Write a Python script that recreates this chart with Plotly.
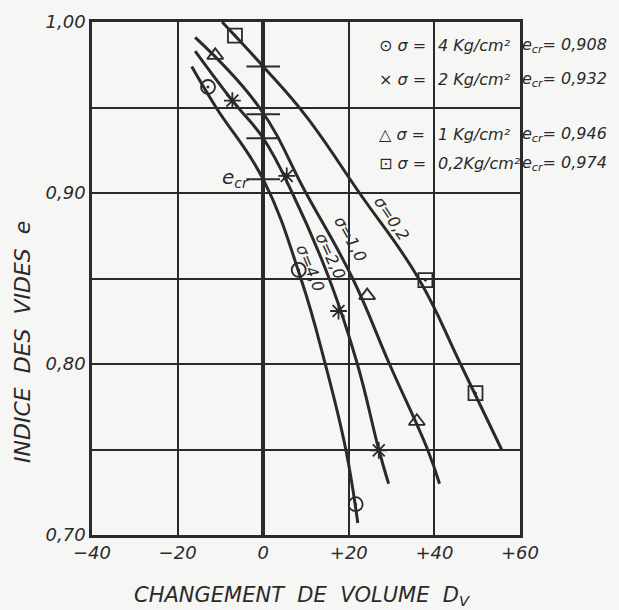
import plotly.graph_objects as go

# ---------------- data ----------------
pressures = ["4 Kg/cm²", "2 Kg/cm²", "1 Kg/cm²", "0,2Kg/cm²"]
ecr_values = [0.908, 0.932, 0.946, 0.974]
ecr_text = ["0,908", "0,932", "0,946", "0,974"]
curve_names = ["σ=4,0", "σ=2,0", "σ=1,0", "σ=0,2"]

# fitted curves
c4_x = [-16.7, -11.0, 0.0, 8.8, 14.5, 19.3, 22.1]
c4_y = [0.974, 0.950, 0.908, 0.850, 0.800, 0.750, 0.707]
c2_x = [-15.9, -7.2, 0.0, 6.8, 15.4, 22.0, 27.0, 29.3]
c2_y = [0.983, 0.954, 0.932, 0.900, 0.850, 0.800, 0.750, 0.730]
c1_x = [-15.9, -0.9, 10.0, 20.9, 29.5, 38.4, 41.2]
c1_y = [0.991, 0.950, 0.900, 0.850, 0.800, 0.750, 0.730]
c02_x = [-9.6, 0.0, 10.0, 22.5, 36.3, 46.1, 55.7]
c02_y = [1.000, 0.974, 0.945, 0.900, 0.850, 0.800, 0.750]

# measured points
m4_x = [-12.9, 8.3, 21.6]
m4_y = [0.962, 0.855, 0.718]
m2_x = [-7.2, 5.5, 17.6, 27.0]
m2_y = [0.954, 0.910, 0.831, 0.7495]
m1_x = [-11.2, 24.3, 35.9]
m1_y = [0.9805, 0.840, 0.7665]
m02_x = [-6.6, 37.9, 49.6]
m02_y = [0.992, 0.849, 0.783]

x_ticks = [-40, -20, 0, 20, 40, 60]
x_ticktext = ["−40", "−20", "0", "+20", "+40", "+60"]
y_ticks = [0.70, 0.75, 0.80, 0.85, 0.90, 0.95, 1.00]
y_ticktext = ["0,70", "", "0,80", "", "0,90", "", "1,00"]

INK = "#2a2a2a"
BG = "#f6f6f4"
FONT = "DejaVu Sans"

fig = go.Figure()

for cx, cy in [(c4_x, c4_y), (c2_x, c2_y), (c1_x, c1_y), (c02_x, c02_y)]:
    fig.add_trace(go.Scatter(x=cx, y=cy, mode="lines",
                             line=dict(color=INK, width=3, shape="spline", smoothing=1.2),
                             hoverinfo="skip", showlegend=False))

mk = dict(color=INK, size=14, line=dict(color=INK, width=1.8))
fig.add_trace(go.Scatter(x=m4_x, y=m4_y, mode="markers",
                         marker=dict(symbol="circle-open-dot", **mk), showlegend=False))
fig.add_trace(go.Scatter(x=m2_x, y=m2_y, mode="markers",
                         marker=dict(symbol="asterisk-open", **mk), showlegend=False))
fig.add_trace(go.Scatter(x=m1_x, y=m1_y, mode="markers",
                         marker=dict(symbol="triangle-up-open", **mk), showlegend=False))
fig.add_trace(go.Scatter(x=m02_x, y=m02_y, mode="markers",
                         marker=dict(symbol="square-open-dot", **mk), showlegend=False))

# e_cr ticks on the zero line
fig.add_trace(go.Scatter(x=[0] * len(ecr_values), y=ecr_values, mode="markers",
                         marker=dict(symbol="line-ew-open", size=24, color=INK,
                                     line=dict(color=INK, width=2)),
                         showlegend=False, cliponaxis=False))

fig.add_annotation(x=-2.8, y=0.9085, xref="x", yref="y", text="e<sub>cr</sub>",
                   showarrow=False, xanchor="right", yanchor="middle",
                   font=dict(family=FONT, size=20, color=INK, style="italic"))

# curve labels
label_pos = [(11.1, 0.856, 68), (15.8, 0.863, 65), (20.5, 0.873, 61), (30.0, 0.885, 56)]
for name, (lx, ly, ang) in zip(curve_names, label_pos):
    fig.add_annotation(x=lx, y=ly, xref="x", yref="y", text=name, showarrow=False,
                       textangle=ang,
                       font=dict(family=FONT, size=16, color=INK, style="italic"))

# legend block
symbols = ["⊙", "×", "△", "⊡"]
row_y = [0.9864, 0.9665, 0.9343, 0.9174]
for sym, p, et, ry in zip(symbols, pressures, ecr_text, row_y):
    f = dict(family=FONT, size=16, color=INK, style="italic")
    fig.add_annotation(x=26.5, y=ry, xref="x", yref="y", text=sym + " σ =",
                       showarrow=False, xanchor="left", font=f)
    fig.add_annotation(x=40.4, y=ry, xref="x", yref="y", text=p,
                       showarrow=False, xanchor="left", font=f)
    fig.add_annotation(x=59.9, y=ry, xref="x", yref="y",
                       text="e<sub>cr</sub>= " + et,
                       showarrow=False, xanchor="left", font=f)

# axis titles
fig.add_annotation(x=(302 - 92) / 427.5, y=-(596 - 535) / 513.0, xref="paper", yref="paper",
                   text="CHANGEMENT  DE  VOLUME  D<sub>V</sub>", showarrow=False,
                   xanchor="center", yanchor="middle",
                   font=dict(family=FONT, size=21, color=INK, style="italic"))
fig.add_annotation(x=-(92 - 22) / 427.5, y=(535 - 342) / 513.0, xref="paper", yref="paper",
                   text="INDICE  DES  VIDES  e", showarrow=False, textangle=-90,
                   xanchor="center", yanchor="middle",
                   font=dict(family=FONT, size=22, color=INK, style="italic"))

axis_font = dict(family=FONT, size=18, color=INK, style="italic")
fig.update_xaxes(range=[-40, 60], tickvals=x_ticks, ticktext=x_ticktext,
                 showgrid=True, gridcolor=INK, gridwidth=1.5,
                 zeroline=True, zerolinecolor=INK, zerolinewidth=3.5,
                 showline=True, linecolor=INK, linewidth=2.5, mirror=True,
                 ticks="", tickfont=axis_font)
fig.update_yaxes(range=[0.70, 1.00], tickvals=y_ticks, ticktext=y_ticktext,
                 showgrid=True, gridcolor=INK, gridwidth=1.5, zeroline=False,
                 showline=True, linecolor=INK, linewidth=2.5, mirror=True,
                 ticks="", tickfont=axis_font)

fig.update_layout(width=619, height=610, margin=dict(l=92, r=99, t=22, b=75),
                  paper_bgcolor=BG, plot_bgcolor=BG, showlegend=False)

fig.write_html("out.html")
